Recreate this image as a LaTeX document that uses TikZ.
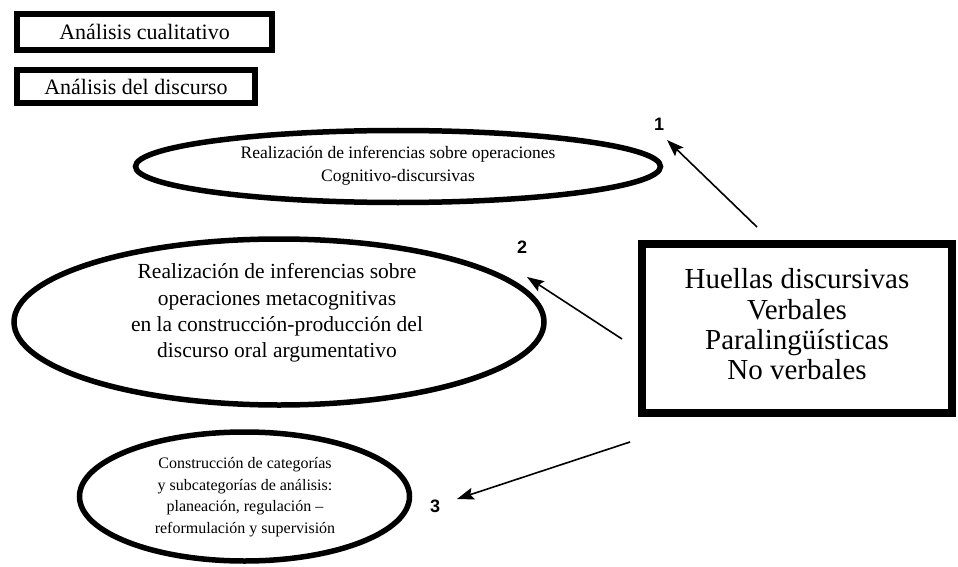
\documentclass[tikz,border=0pt]{standalone}
\usepackage{fontspec}
\setmainfont{Liberation Serif}
\newfontfamily\arialfont{Liberation Sans}
\usetikzlibrary{shapes.geometric,arrows.meta}
\begin{document}
\begin{tikzpicture}[x=1pt,y=-1pt,
  ell/.style={ellipse, draw, line width=5.5pt, inner sep=0pt},
  tbox/.style={rectangle, draw, line width=6pt, inner sep=0pt, align=center},
  txt/.style={inner sep=0pt, align=center},
  arr/.style={-{Stealth[length=17pt,width=12pt,inset=3pt]}, line width=1.6pt},
  num/.style={font=\arialfont\bfseries\fontsize{18}{20}\selectfont}]
\useasboundingbox[fill=white] (0,0) rectangle (958,567);
\node[tbox, minimum width=255, minimum height=36, font=\fontsize{22}{25}\selectfont] (b1) at (144.5,32) {Análisis cualitativo};
\node[tbox, minimum width=238, minimum height=33, font=\fontsize{22}{25}\selectfont] (b2) at (136,86.5) {Análisis del discurso};
% ellipse 1
\node[ell, minimum width=525, minimum height=72] (e1) at (398,166.5) {};
\node[txt, font=\fontsize{17.5}{23}\selectfont] (e1t) at (398,165.5) {Realización de inferencias sobre operaciones\\Cognitivo-discursivas};
% ellipse 2
\node[ell, minimum width=530, minimum height=166] (e2) at (279,322) {};
\node[txt, font=\fontsize{21.5}{26.3}\selectfont] (e2t) at (277,313) {Realización de inferencias sobre\\operaciones metacognitivas\\en la construcción-producción del\\discurso oral argumentativo};
% ellipse 3
\node[ell, minimum width=330, minimum height=129] (e3) at (244.5,496.5) {};
\node[txt, font=\fontsize{16}{21.5}\selectfont] (e3t) at (245,497) {Construcción de categorías\\y subcategorías de análisis:\\planeación, regulación --\\reformulación y supervisión};
% main box
\node[tbox, line width=8pt, minimum width=310, minimum height=169] (h) at (797,328.5) {};
\node[txt, font=\fontsize{29}{30.3}\selectfont] (ht) at (797,324.5) {Huellas discursivas\\Verbales\\Paralingüísticas\\No verbales};
% arrows
\coordinate (t1) at (757,227);
\coordinate (p1) at (667,140);
\coordinate (t2) at (622,339);
\coordinate (p2) at (527,277);
\coordinate (t3) at (630,442);
\coordinate (p3) at (457,499);
\draw[arr] (t1) -- (p1);
\draw[arr] (t2) -- (p2);
\draw[arr] (t3) -- (p3);
\node[num] (n1) at (659,124) {1};
\node[num] (n2) at (522,247) {2};
\node[num] (n3) at (435,506) {3};
\end{tikzpicture}
\end{document}
